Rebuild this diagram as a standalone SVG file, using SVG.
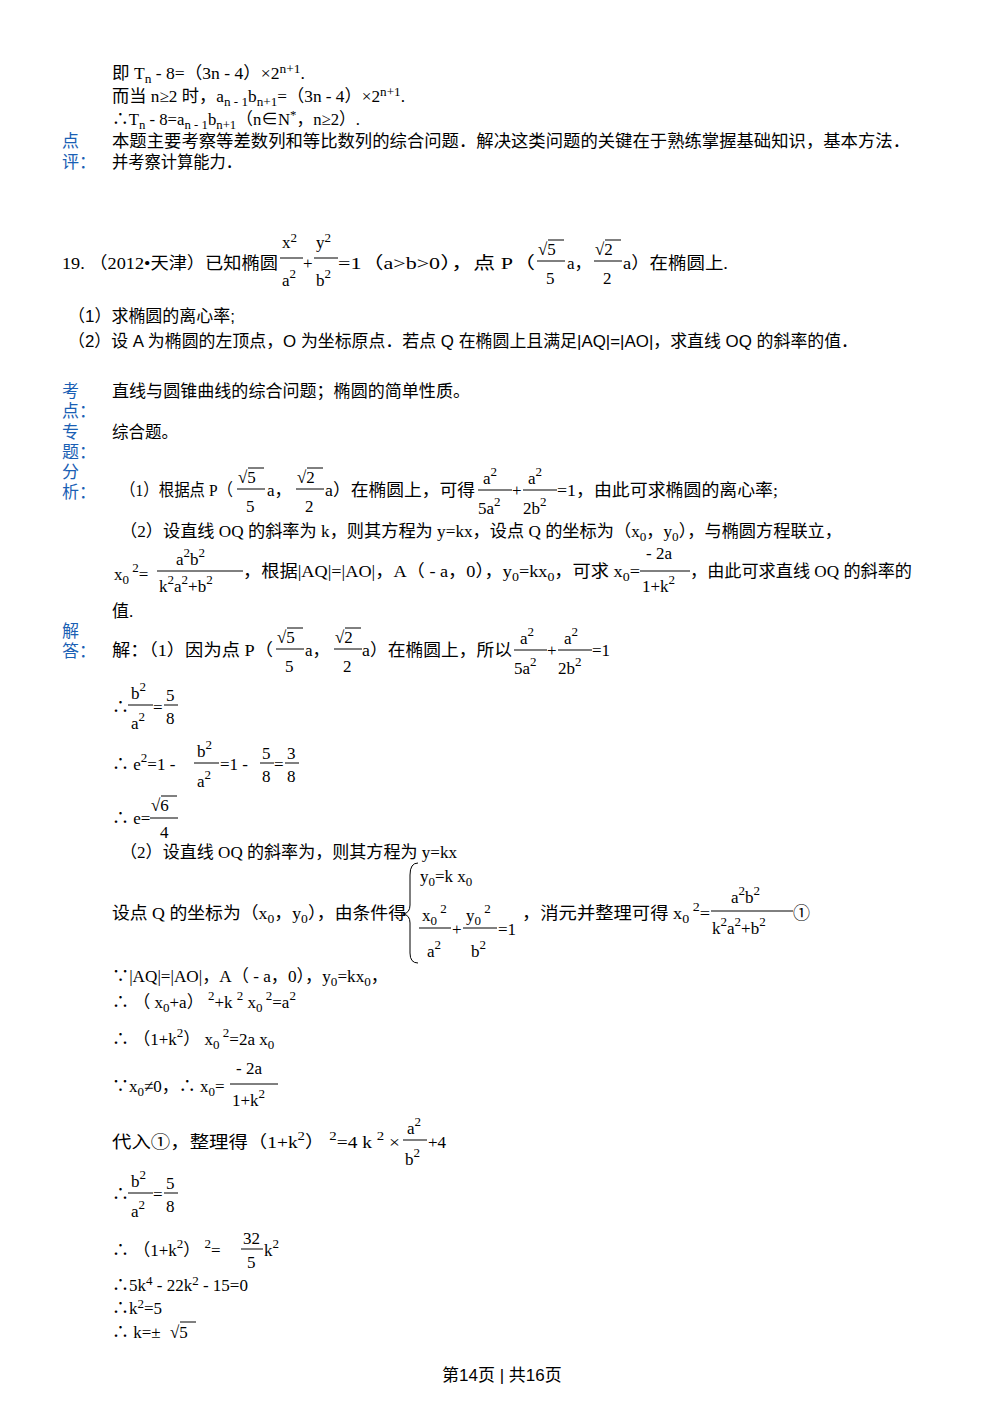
<svg xmlns="http://www.w3.org/2000/svg" width="1000" height="1414" viewBox="0 0 1000 1414">
<style>
text{font-family:"Liberation Serif","Noto Sans CJK SC",serif;font-size:17px;fill:#000}
.s{font-size:13px}
.b{fill:#1a5fb4}
.m{font-family:"Liberation Sans","Noto Sans CJK SC",sans-serif;font-size:17px}
line{stroke:#000;stroke-width:1}
</style>
<rect width="1000" height="1414" fill="#fff"/>
<text x="112" y="79" textLength="193" lengthAdjust="spacingAndGlyphs">即 T<tspan class="s" dy="4">n</tspan><tspan dy="-4"> - 8=（3n - 4）×2</tspan><tspan class="s" dy="-6">n+1</tspan><tspan dy="6">.</tspan></text>
<text x="112" y="102" textLength="293" lengthAdjust="spacingAndGlyphs">而当 n≥2 时，a<tspan class="s" dy="4">n - 1</tspan><tspan dy="-4">b</tspan><tspan class="s" dy="4">n+1</tspan><tspan dy="-4">=（3n - 4）×2</tspan><tspan class="s" dy="-6">n+1</tspan><tspan dy="6">.</tspan></text>
<text x="112" y="125" textLength="248" lengthAdjust="spacingAndGlyphs">∴T<tspan class="s" dy="4">n</tspan><tspan dy="-4"> - 8=a</tspan><tspan class="s" dy="4">n - 1</tspan><tspan dy="-4">b</tspan><tspan class="s" dy="4">n+1</tspan><tspan dy="-4">（n∈N</tspan><tspan class="s" dy="-6">*</tspan><tspan dy="6">，n≥2）.</tspan></text>
<text class="b" x="62" y="147">点</text><text class="b" x="62" y="168">评：</text>
<text x="112" y="147" textLength="798" lengthAdjust="spacingAndGlyphs">本题主要考察等差数列和等比数列的综合问题．解决这类问题的关键在于熟练掌握基础知识，基本方法．</text>
<text x="112" y="168" textLength="130" lengthAdjust="spacingAndGlyphs">并考察计算能力．</text>

<text x="62" y="269" textLength="216" lengthAdjust="spacingAndGlyphs">19.  （2012•天津）<tspan class="m">已知椭圆</tspan></text>
<text x="282" y="248">x<tspan class="s" dy="-6">2</tspan></text><line x1="280" y1="258" x2="303" y2="258"/><text x="282" y="286">a<tspan class="s" dy="-8">2</tspan></text>
<text x="303" y="269">+</text>
<text x="316" y="248">y<tspan class="s" dy="-6">2</tspan></text><line x1="314" y1="258" x2="338" y2="258"/><text x="316" y="286">b<tspan class="s" dy="-8">2</tspan></text>
<text x="338" y="269" textLength="197" lengthAdjust="spacingAndGlyphs">=1（a&gt;b&gt;0），点 P（</text>
<text x="538" y="255">√5</text><line x1="548" y1="240" x2="564" y2="240"/><line x1="537" y1="261" x2="565" y2="261"/><text x="546" y="284">5</text>
<text x="567" y="269">a，</text>
<text x="595" y="255">√2</text><line x1="605" y1="240" x2="621" y2="240"/><line x1="594" y1="261" x2="622" y2="261"/><text x="603" y="284">2</text>
<text x="623" y="269" textLength="105" lengthAdjust="spacingAndGlyphs">a）<tspan class="m">在椭圆上</tspan>.</text>
<text class="m" x="68" y="322" textLength="167" lengthAdjust="spacingAndGlyphs">（1）求椭圆的离心率;</text>
<text class="m" x="68" y="347" textLength="790" lengthAdjust="spacingAndGlyphs">（2）设 A 为椭圆的左顶点，O 为坐标原点．若点 Q 在椭圆上且满足|AQ|=|AO|，求直线 OQ 的斜率的值．</text>

<text class="b" x="62" y="397">考</text><text class="b" x="62" y="417">点：</text>
<text x="112" y="397" textLength="358" lengthAdjust="spacingAndGlyphs">直线与圆锥曲线的综合问题；椭圆的简单性质。</text>
<text class="b" x="62" y="438">专</text><text class="b" x="62" y="458">题：</text>
<text x="112" y="438" textLength="66" lengthAdjust="spacingAndGlyphs">综合题。</text>
<text class="b" x="62" y="478">分</text><text class="b" x="62" y="498">析：</text>
<text x="120" y="496" textLength="113" lengthAdjust="spacingAndGlyphs">（1）根据点 P（</text>
<text x="238" y="483">√5</text><line x1="248" y1="468" x2="264" y2="468"/><line x1="237" y1="489" x2="265" y2="489"/><text x="246" y="512">5</text>
<text x="267" y="496">a，</text>
<text x="297" y="483">√2</text><line x1="307" y1="468" x2="323" y2="468"/><line x1="296" y1="489" x2="324" y2="489"/><text x="305" y="512">2</text>
<text x="325" y="496" textLength="150" lengthAdjust="spacingAndGlyphs">a）在椭圆上，可得</text>
<text x="483" y="484">a<tspan class="s" dy="-8">2</tspan></text><line x1="478" y1="490" x2="512" y2="490"/><text x="478" y="514">5a<tspan class="s" dy="-8">2</tspan></text>
<text x="512" y="496">+</text>
<text x="528" y="484">a<tspan class="s" dy="-8">2</tspan></text><line x1="523" y1="490" x2="557" y2="490"/><text x="523" y="514">2b<tspan class="s" dy="-8">2</tspan></text>
<text x="557" y="496" textLength="221" lengthAdjust="spacingAndGlyphs">=1，由此可求椭圆的离心率;</text>
<text x="120" y="537" textLength="722" lengthAdjust="spacingAndGlyphs">（2）设直线 OQ 的斜率为 k，则其方程为 y=kx，设点 Q 的坐标为（x<tspan class="s" dy="4">0</tspan><tspan dy="-4">，y</tspan><tspan class="s" dy="4">0</tspan><tspan dy="-4">），与椭圆方程联立，</tspan></text>
<text x="114" y="580">x<tspan class="s" dy="4">0</tspan><tspan class="s" dy="-12"> 2</tspan><tspan dy="8">=</tspan></text>
<text x="176" y="565">a<tspan class="s" dy="-8">2</tspan><tspan dy="8">b</tspan><tspan class="s" dy="-8">2</tspan></text><line x1="157" y1="571" x2="243" y2="571"/><text x="159" y="592">k<tspan class="s" dy="-8">2</tspan><tspan dy="8">a</tspan><tspan class="s" dy="-8">2</tspan><tspan dy="8">+b</tspan><tspan class="s" dy="-8">2</tspan></text>
<text x="243" y="577" textLength="397" lengthAdjust="spacingAndGlyphs">，根据|AQ|=|AO|，A（ - a，0），y<tspan class="s" dy="4">0</tspan><tspan dy="-4">=kx</tspan><tspan class="s" dy="4">0</tspan><tspan dy="-4">，可求 x</tspan><tspan class="s" dy="4">0</tspan><tspan dy="-4">=</tspan></text>
<text x="646" y="559"> - 2a</text><line x1="640" y1="571" x2="690" y2="571"/><text x="642" y="592">1+k<tspan class="s" dy="-8">2</tspan></text>
<text x="690" y="577" textLength="222" lengthAdjust="spacingAndGlyphs">，由此可求直线 OQ 的斜率的</text>
<text x="112" y="617">值.</text>

<text class="b" x="62" y="637">解</text><text class="b" x="62" y="657">答：</text>
<text x="112" y="656" textLength="161" lengthAdjust="spacingAndGlyphs">解：（1）因为点 P（</text>
<text x="277" y="643">√5</text><line x1="287" y1="628" x2="303" y2="628"/><line x1="276" y1="649" x2="304" y2="649"/><text x="285" y="672">5</text>
<text x="305" y="656">a，</text>
<text x="335" y="643">√2</text><line x1="345" y1="628" x2="361" y2="628"/><line x1="334" y1="649" x2="362" y2="649"/><text x="343" y="672">2</text>
<text x="362" y="656" textLength="150" lengthAdjust="spacingAndGlyphs">a）在椭圆上，所以</text>
<text x="520" y="644">a<tspan class="s" dy="-8">2</tspan></text><line x1="514" y1="650" x2="547" y2="650"/><text x="514" y="674">5a<tspan class="s" dy="-8">2</tspan></text>
<text x="547" y="656">+</text>
<text x="564" y="644">a<tspan class="s" dy="-8">2</tspan></text><line x1="558" y1="650" x2="592" y2="650"/><text x="558" y="674">2b<tspan class="s" dy="-8">2</tspan></text>
<text x="592" y="656">=1</text>

<text x="112" y="713">∴</text><text x="131" y="699">b<tspan class="s" dy="-8">2</tspan></text><line x1="128" y1="705" x2="153" y2="705"/><text x="131" y="729">a<tspan class="s" dy="-8">2</tspan></text>
<text x="153" y="713">=</text><text x="166" y="701">5</text><line x1="164" y1="705" x2="178" y2="705"/><text x="166" y="724">8</text>

<text x="112" y="770">∴ e<tspan class="s" dy="-8">2</tspan><tspan dy="8">=1 - </tspan></text><text x="197" y="757">b<tspan class="s" dy="-8">2</tspan></text><line x1="194" y1="763" x2="219" y2="763"/><text x="197" y="787">a<tspan class="s" dy="-8">2</tspan></text>
<text x="220" y="770">=1 - </text><text x="262" y="759">5</text><line x1="260" y1="763" x2="274" y2="763"/><text x="262" y="782">8</text>
<text x="274" y="770">=</text><text x="287" y="759">3</text><line x1="285" y1="763" x2="299" y2="763"/><text x="287" y="782">8</text>

<text x="112" y="824">∴ e=</text><text x="151" y="811">√6</text><line x1="161" y1="796" x2="177" y2="796"/><line x1="150" y1="818" x2="178" y2="818"/><text x="160" y="838">4</text>

<text x="120" y="858" textLength="337" lengthAdjust="spacingAndGlyphs">（2）设直线 OQ 的斜率为，则其方程为 y=kx</text>
<text x="112" y="919" textLength="294" lengthAdjust="spacingAndGlyphs">设点 Q 的坐标为（x<tspan class="s" dy="4">0</tspan><tspan dy="-4">，y</tspan><tspan class="s" dy="4">0</tspan><tspan dy="-4">），由条件得</tspan></text>
<path d="M418,863 Q410,863 410,875 L410,905 Q410,913 403,914 Q410,915 410,923 L410,953 Q410,963 418,963" fill="none" stroke="#000"/>
<text x="420" y="882">y<tspan class="s" dy="4">0</tspan><tspan dy="-4">=k x</tspan><tspan class="s" dy="4">0</tspan></text>
<text x="422" y="921">x<tspan class="s" dy="4">0</tspan><tspan class="s" dy="-12"> 2</tspan></text><line x1="419" y1="928" x2="451" y2="928"/><text x="427" y="957">a<tspan class="s" dy="-8">2</tspan></text>
<text x="452" y="935">+</text>
<text x="466" y="921">y<tspan class="s" dy="4">0</tspan><tspan class="s" dy="-12"> 2</tspan></text><line x1="463" y1="928" x2="497" y2="928"/><text x="471" y="957">b<tspan class="s" dy="-8">2</tspan></text>
<text x="498" y="935">=1</text>
<text x="522" y="919" textLength="188" lengthAdjust="spacingAndGlyphs">，消元并整理可得 x<tspan class="s" dy="4">0</tspan><tspan class="s" dy="-12"> 2</tspan><tspan dy="8">=</tspan></text>
<text x="731" y="903">a<tspan class="s" dy="-8">2</tspan><tspan dy="8">b</tspan><tspan class="s" dy="-8">2</tspan></text><line x1="711" y1="911" x2="793" y2="911"/><text x="712" y="934">k<tspan class="s" dy="-8">2</tspan><tspan dy="8">a</tspan><tspan class="s" dy="-8">2</tspan><tspan dy="8">+b</tspan><tspan class="s" dy="-8">2</tspan></text>
<text x="793" y="919">①</text>

<text x="112" y="982" textLength="276" lengthAdjust="spacingAndGlyphs">∵|AQ|=|AO|，A（ - a，0），y<tspan class="s" dy="4">0</tspan><tspan dy="-4">=kx</tspan><tspan class="s" dy="4">0</tspan><tspan dy="-4">，</tspan></text>
<text x="112" y="1008">∴ （ x<tspan class="s" dy="4">0</tspan><tspan dy="-4">+a） </tspan><tspan class="s" dy="-8">2</tspan><tspan dy="8">+k </tspan><tspan class="s" dy="-8">2</tspan><tspan dy="8"> x</tspan><tspan class="s" dy="4">0</tspan><tspan class="s" dy="-12"> 2</tspan><tspan dy="8">=a</tspan><tspan class="s" dy="-8">2</tspan></text>
<text x="112" y="1045">∴ （1+k<tspan class="s" dy="-8">2</tspan><tspan dy="8">） x</tspan><tspan class="s" dy="4">0</tspan><tspan class="s" dy="-12"> 2</tspan><tspan dy="8">=2a x</tspan><tspan class="s" dy="4">0</tspan></text>
<text x="112" y="1092">∵x<tspan class="s" dy="4">0</tspan><tspan dy="-4">≠0，∴ x</tspan><tspan class="s" dy="4">0</tspan><tspan dy="-4">=</tspan></text>
<text x="236" y="1074"> - 2a</text><line x1="230" y1="1084" x2="278" y2="1084"/><text x="232" y="1106">1+k<tspan class="s" dy="-8">2</tspan></text>
<text x="112" y="1148" textLength="288" lengthAdjust="spacingAndGlyphs">代入①，整理得（1+k<tspan class="s" dy="-8">2</tspan><tspan dy="8">） </tspan><tspan class="s" dy="-8">2</tspan><tspan dy="8">=4 k </tspan><tspan class="s" dy="-8">2</tspan><tspan dy="8"> ×</tspan></text>
<text x="407" y="1134">a<tspan class="s" dy="-8">2</tspan></text><line x1="403" y1="1140" x2="427" y2="1140"/><text x="405" y="1165">b<tspan class="s" dy="-8">2</tspan></text>
<text x="428" y="1148">+4</text>

<text x="112" y="1200">∴</text><text x="131" y="1187">b<tspan class="s" dy="-8">2</tspan></text><line x1="128" y1="1193" x2="153" y2="1193"/><text x="131" y="1217">a<tspan class="s" dy="-8">2</tspan></text>
<text x="153" y="1200">=</text><text x="166" y="1189">5</text><line x1="164" y1="1193" x2="178" y2="1193"/><text x="166" y="1212">8</text>

<text x="112" y="1256">∴ （1+k<tspan class="s" dy="-8">2</tspan><tspan dy="8">） </tspan><tspan class="s" dy="-8">2</tspan><tspan dy="8">=</tspan></text>
<text x="243" y="1244">32</text><line x1="241" y1="1249" x2="263" y2="1249"/><text x="247" y="1268">5</text><text x="264" y="1256">k<tspan class="s" dy="-8">2</tspan></text>
<text x="112" y="1291">∴5k<tspan class="s" dy="-6">4</tspan><tspan dy="6"> - 22k</tspan><tspan class="s" dy="-6">2</tspan><tspan dy="6"> - 15=0</tspan></text>
<text x="112" y="1314">∴k<tspan class="s" dy="-6">2</tspan><tspan dy="6">=5</tspan></text>
<text x="112" y="1338">∴ k=±</text><text x="170" y="1338">√5</text><line x1="180" y1="1322" x2="196" y2="1322"/>
<text class="m" x="442" y="1381">第14页 | 共16页</text>
</svg>
